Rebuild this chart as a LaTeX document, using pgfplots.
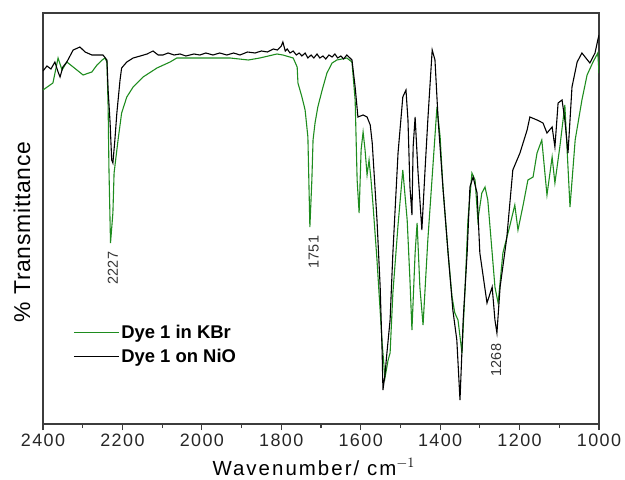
\documentclass[border=0pt]{standalone}
\usepackage{pgfplots}
\pgfplotsset{compat=1.18}
\usepackage{fontspec}
\setmainfont{Liberation Sans}
\definecolor{kbr}{RGB}{30,140,30}
\definecolor{axgray}{RGB}{60,60,60}
\begin{document}
\begin{tikzpicture}
\begin{axis}[
  name=ax,
  width=556bp, height=411bp, scale only axis,
  x dir=reverse,
  xmin=1000, xmax=2400, ymin=0, ymax=411,
  ytick=\empty,
  xtick={1000,1200,...,2400},
  minor x tick num=1,
  xtick pos=bottom,
  tick align=outside,
  major tick length=6bp, minor tick length=4bp,
  axis line style={axgray, line width=1.2pt},
  every tick/.style={axgray, line width=1.1pt},
  /pgf/number format/assume math mode=true,
  /pgf/number format/1000 sep={},
  tick label style={font=\fontsize{18}{20}\selectfont\addfontfeatures{LetterSpace=8}, text=black!85},
  xlabel={Wavenumber/ cm$^{-1}$},
  xlabel style={font=\fontsize{20.5}{22}\selectfont\addfontfeatures{LetterSpace=10}, at={(axis description cs:0.487,-0.105)}, anchor=center},
  ylabel={\% Transmittance},
  ylabel style={font=\fontsize{23}{25}\selectfont\addfontfeatures{LetterSpace=3}, at={(axis description cs:-0.038,0.467)}, anchor=center},
  legend style={draw=none, fill=none, at={(axis description cs:0.054,0.245)}, anchor=north west,
    font=\fontsize{18.5}{20}\selectfont\bfseries, inner sep=0pt, row sep=5pt},
  legend cell align=left,
  legend image code/.code={\draw[#1] (0bp,0bp) -- (45bp,0bp);},
]
\addplot[kbr, line width=1.1pt] coordinates {
(2400,334)(2375,341)(2362,366)(2352,354)(2340,362)(2324,357)(2299,349)(2277,352)(2264,359)(2251,364)(2244,366)(2239,362)(2236,317)(2234,257)(2230,181)(2224,211)(2221,251)(2211,284)(2202,311)(2189,327)(2173,337)(2148,347)(2113,356)(2080,362)(2063,366)(2005,366)(1929,366)(1883,364)(1854,366)(1811,370)(1796,369)(1770,366)(1760,357)(1758,341)(1748,327)(1740,314)(1733,287)(1728,197)(1723,244)(1720,284)(1715,301)(1708,317)(1697,334)(1685,351)(1672,361)(1660,364)(1635,366)(1622,362)(1614,324)(1609,244)(1604,211)(1599,274)(1594,292)(1589,274)(1584,249)(1579,264)(1574,244)(1569,219)(1559,164)(1546,81)(1539,46)(1531,64)(1526,71)(1519,131)(1506,199)(1494,254)(1483,204)(1476,144)(1471,94)(1463,171)(1458,201)(1451,137)(1443,99)(1431,184)(1418,259)(1408,317)(1400,287)(1393,237)(1380,171)(1370,127)(1363,111)(1355,104)(1345,71)(1337,137)(1330,204)(1320,251)(1312,244)(1305,204)(1295,231)(1287,237)(1280,224)(1269,171)(1262,137)(1254,121)(1242,171)(1224,199)(1212,219)(1204,194)(1191,219)(1179,244)(1166,247)(1156,271)(1144,284)(1131,229)(1118,267)(1111,241)(1098,279)(1086,319)(1073,217)(1060,284)(1043,324)(1030,349)(1015,362)(1003,371)(1000,351)
};
\addlegendentry{Dye 1 in KBr}
\addplot[black, line width=1.1pt] coordinates {
(2400,353)(2390,358)(2380,355)(2370,362)(2362,352)(2357,347)(2350,357)(2340,362)(2324,374)(2307,377)(2294,372)(2277,369)(2264,369)(2249,369)(2239,364)(2236,334)(2231,301)(2227,264)(2224,261)(2219,284)(2214,311)(2206,344)(2202,356)(2189,362)(2173,366)(2155,368)(2138,370)(2123,373)(2110,369)(2098,369)(2085,371)(2070,369)(2055,370)(2040,368)(2020,370)(2005,369)(1990,371)(1972,369)(1955,371)(1937,369)(1920,371)(1904,369)(1885,372)(1866,371)(1850,373)(1835,372)(1820,375)(1810,374)(1800,378)(1796,382)(1790,373)(1785,375)(1778,371)(1770,373)(1762,369)(1755,371)(1748,368)(1740,371)(1733,366)(1725,369)(1718,366)(1710,370)(1703,366)(1695,368)(1688,365)(1680,369)(1672,367)(1665,370)(1658,366)(1650,368)(1643,365)(1635,369)(1627,366)(1622,364)(1614,337)(1607,307)(1594,309)(1584,307)(1576,299)(1571,281)(1559,204)(1551,137)(1546,71)(1544,34)(1539,49)(1534,71)(1526,104)(1519,171)(1506,271)(1494,327)(1486,334)(1481,304)(1476,237)(1471,209)(1468,277)(1463,307)(1456,254)(1446,194)(1438,254)(1431,304)(1420,374)(1413,364)(1405,304)(1393,237)(1380,171)(1368,114)(1358,84)(1350,24)(1342,104)(1332,171)(1325,237)(1317,247)(1307,231)(1300,171)(1282,121)(1269,137)(1262,104)(1257,91)(1249,137)(1232,187)(1217,254)(1199,271)(1181,294)(1174,307)(1156,304)(1141,301)(1131,291)(1118,297)(1111,277)(1103,321)(1093,324)(1086,304)(1078,271)(1068,337)(1055,362)(1043,371)(1035,367)(1023,361)(1010,371)(1003,384)(1000,389)
};
\addlegendentry{Dye 1 on NiO}
\node[rotate=90, font=\fontsize{14.5}{16}\selectfont, text=black!80] at (axis cs:2224,156) {2227};
\node[rotate=90, font=\fontsize{14.5}{16}\selectfont, text=black!80] at (axis cs:1718,172) {1751};
\node[rotate=90, font=\fontsize{14.5}{16}\selectfont, text=black!80] at (axis cs:1259,64) {1268};
\end{axis}
\path (ax.south west) ++(-43bp,-56bp) rectangle ++(625bp,480bp);
\end{tikzpicture}
\end{document}
